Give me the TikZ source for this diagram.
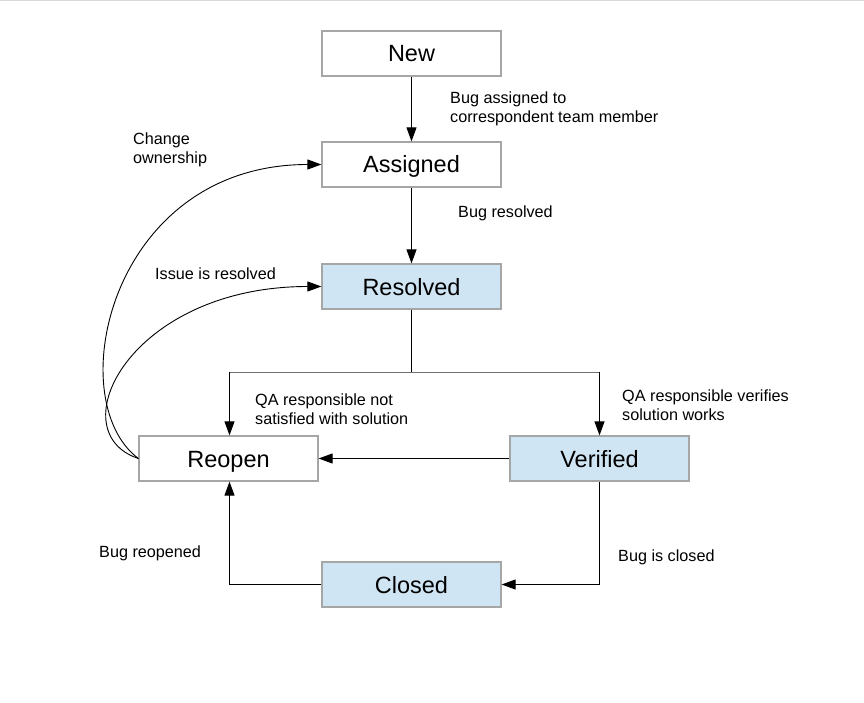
\documentclass[tikz,border=0pt]{standalone}
\usepackage{fontspec}
\setmainfont{Liberation Sans}
\usetikzlibrary{arrows.meta}
\definecolor{boxgray}{HTML}{A6A6A6}
\definecolor{boxblue}{HTML}{CFE5F3}
\definecolor{midgray}{HTML}{707070}
\begin{document}
\begin{tikzpicture}[x=1pt,y=-1pt,
  state/.style={draw=boxgray,line width=1.2pt,fill=white,minimum width=179pt,minimum height=45pt,inner sep=0pt,font=\fontsize{23.5}{27}\selectfont,text height=18.5pt,text depth=1.5pt},
  bluestate/.style={state,fill=boxblue},
  lbl/.style={font=\fontsize{16.2}{18.5}\selectfont,align=left,anchor=west,inner sep=0pt},
  conn/.style={line width=0.9pt,-{Triangle[length=14pt,width=10pt]}},
  plain/.style={line width=0.9pt}]
\useasboundingbox (0,0) rectangle (864,703);
\draw[gray!30,line width=1.5pt] (0,0.75) -- (864,0.75);
\node[state] (new) at (411.5,53.5) {New};
\node[state] (assigned) at (411.5,164.5) {Assigned};
\node[bluestate] (resolved) at (411.5,286.5) {Resolved};
\node[state] (reopen) at (228.5,458.5) {Reopen};
\node[bluestate] (verified) at (599.5,458.5) {Verified};
\node[bluestate] (closed) at (411.5,584.5) {Closed};
\coordinate (split) at (411.5,372);
\coordinate (splitL) at (229.5,372);
\coordinate (splitR) at (599.5,372);
\coordinate (closeR) at (599.5,584.5);
\coordinate (openB) at (229.5,584.5);
\draw[conn] (new) -- (assigned);
\draw[conn] (assigned) -- (resolved);
\draw[plain] (resolved.south) -- (split);
\draw[plain,draw=midgray] (splitL) -- (splitR);
\draw[conn] (splitL) -- (splitL |- reopen.north);
\draw[conn] (splitR) -- (verified.north);
\draw[conn] (verified) -- (reopen);
\draw[conn] (verified.south) -- (closeR) -- (closed.east);
\draw[conn] (closed.west) -- (openB) -- (openB |- reopen.south);
\draw[conn] (reopen.west) .. controls (60,400) and (110,164.5) .. (assigned.west);
\draw[conn] (reopen.west) .. controls (58,432) and (130,286.5) .. (resolved.west);
\node[lbl] (l1) at (450,109) {Bug assigned to\\correspondent team member};
\node[lbl] (l2) at (133,150) {Change\\ownership};
\node[lbl] (l3) at (458,213) {Bug resolved};
\node[lbl] (l4) at (155,274) {Issue is resolved};
\node[lbl] (l5) at (255,409) {QA responsible not\\satisfied with solution};
\node[lbl] (l6) at (622,405) {QA responsible verifies\\solution works};
\node[lbl] (l7) at (99,553) {Bug reopened};
\node[lbl] (l8) at (618,557) {Bug is closed};
\end{tikzpicture}
\end{document}
